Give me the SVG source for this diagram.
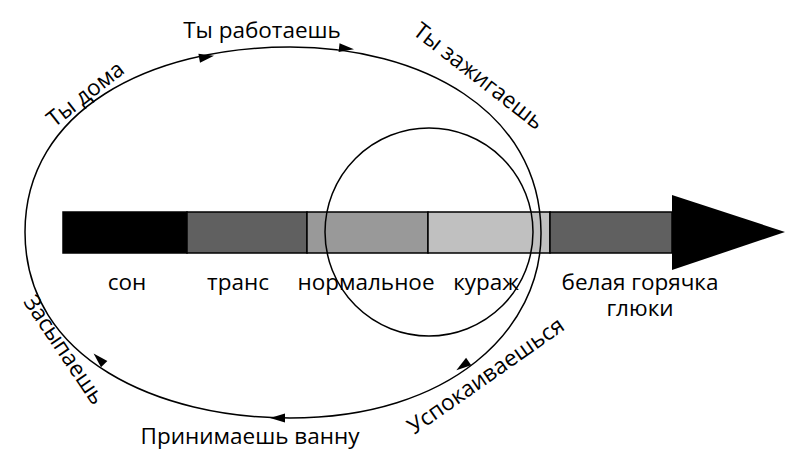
<svg xmlns="http://www.w3.org/2000/svg" width="800" height="465" viewBox="0 0 800 465">
<style>
text{font-family:"Open Sans","DejaVu Sans",sans-serif;font-size:22.5px;fill:#000}
.c{text-anchor:middle}
.ln{fill:none;stroke:#000;stroke-width:1.5}
.seg{stroke:#000;stroke-width:1.5}
</style>
<defs><path id="ah" d="M2,0 L-13,-4.5 L-13,4.5 Z" fill="#000"/></defs>
<rect width="800" height="465" fill="#fff"/>
<g id="bar">
<rect class="seg" x="63" y="212" width="124" height="41" fill="#000"/>
<rect class="seg" x="187" y="212" width="120" height="41" fill="#606060"/>
<rect class="seg" x="307" y="212" width="121" height="41" fill="#999"/>
<rect class="seg" x="428" y="212" width="122" height="41" fill="#c0c0c0"/>
<rect class="seg" x="550" y="212" width="122" height="41" fill="#606060"/>
<polygon points="672,195 785,232 672,270" fill="#000"/>
</g>
<g id="labels">
<text class="c" x="127" y="290">сон</text>
<text class="c" x="238" y="290">транс</text>
<text class="c" x="366" y="290">нормальное</text>
<text class="c" x="486" y="290">кураж</text>
<text class="c" x="640" y="290">белая горячка</text>
<text class="c" x="640" y="316">глюки</text>
</g>
<g id="circle"><circle class="ln" cx="429" cy="232" r="104"/></g>
<g id="connectors">
<path class="ln" d="M25,232 C25,110 150,47 290,47 C420,47 540,110 541,232 C542,330 450,418 290,418 C160,418 25,360 25,232 Z"/>
<use href="#ah" transform="translate(212,56) rotate(-10)"/>
<use href="#ah" transform="translate(352,49) rotate(6)"/>
<use href="#ah" transform="translate(458,369) rotate(145)"/>
<use href="#ah" transform="translate(272,418) rotate(180)"/>
<use href="#ah" transform="translate(95,355) rotate(-135)"/>
</g>
<g id="loop-labels">
<text class="c" x="262" y="38">Ты работаешь</text>
<text class="c" transform="translate(90,100) rotate(-38)">Ты дома</text>
<text class="c" transform="translate(474,82) rotate(38)">Ты зажигаешь</text>
<text class="c" transform="translate(58,354) rotate(56)">Засыпаешь</text>
<text class="c" x="250" y="444">Принимаешь ванну</text>
<text class="c" transform="translate(490,382) rotate(-35)">Успокаиваешься</text>
</g>
</svg>
